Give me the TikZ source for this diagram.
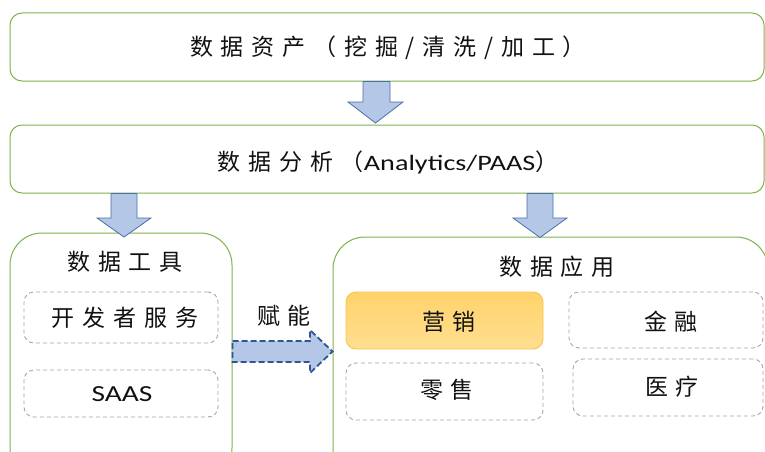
\documentclass[tikz,border=0pt]{standalone}
\usepackage{fontspec}
\usepackage{graphicx}
\setmainfont{Carlito}
\newfontfamily\cjk[LetterSpace=34]{Noto Sans CJK SC}
\newfontfamily\lat{Carlito}
\definecolor{gr}{HTML}{7DB54A}
\definecolor{ablue}{HTML}{B4C7E7}
\definecolor{abord}{HTML}{4A6FA5}
\definecolor{dashblue}{HTML}{2F5597}
\definecolor{gry}{HTML}{A6A6A6}
\definecolor{orline}{HTML}{F7C548}
\definecolor{txt}{HTML}{111111}
\definecolor{orTop}{HTML}{FFD36B}
\definecolor{orBot}{HTML}{FFDE90}
\newcommand{\wide}[1]{\scalebox{1.28}[1]{#1}}
\begin{document}
\begin{tikzpicture}[x=1pt,y=-1pt,
  gbox/.style={draw=gr, line width=1pt, rounded corners=12pt, inner sep=0pt},
  bigbox/.style={draw=gr, line width=1pt, rounded corners=32pt, inner sep=0pt},
  dbox/.style={draw=gry, dashed, dash pattern=on 4pt off 3pt, line width=0.9pt, rounded corners=10pt, inner sep=0pt},
  obox/.style={draw=orline, line width=0.9pt, rounded corners=10pt, top color=orTop, bottom color=orBot, inner sep=0pt},
  lbl/.style={text=txt, inner sep=0pt, font=\cjk\fontsize{23}{26}\selectfont},
  blk/.style={fill=ablue, draw=abord, line width=0.8pt, line join=miter},
  dblk/.style={fill=ablue, draw=dashblue, line width=1.8pt, dashed, dash pattern=on 6pt off 3pt, line join=miter}
]
\useasboundingbox (0,0) rectangle (765,452);
\clip (0,0) rectangle (765,452);
\fill[white] (0,0) rectangle (765,452);

% top level boxes
\node[gbox, minimum width=754pt, minimum height=68pt] (asset) at (387,47) {};
\node[lbl] (assetT) at (388,48) {数据资产（挖掘/清洗/加工）};
\node[gbox, minimum width=754pt, minimum height=68pt] (anal) at (387,159) {};
\node[lbl] (analT) at (388,162) {数据分析（{\lat\fontsize{22}{24}\selectfont\wide{Analytics/PAAS}}）};

% big lower boxes
\node[bigbox, minimum width=222pt, minimum height=247pt] (tools) at (121,356.5) {};
\node[bigbox, minimum width=435pt, minimum height=243pt] (apps) at (550.5,358.5) {};
\node[lbl] (toolsT) at (125,262) {数据工具};
\node[lbl] (appsT) at (557,267) {数据应用};

% inner boxes
\node[dbox, minimum width=194pt, minimum height=51pt] (dev) at (121,317.5) {};
\node[lbl] (devT) at (125,318) {开发者服务};
\node[dbox, minimum width=194pt, minimum height=47pt] (saas) at (121,393.5) {};
\node[text=txt, inner sep=0pt, font=\lat\fontsize{23}{24}\selectfont] (saasT) at (122,394) {\wide{SAAS}};

\node[obox, minimum width=197pt, minimum height=57pt] (mkt) at (444.5,320.5) {};
\node[lbl] (mktT) at (449,322) {营销};
\node[dbox, minimum width=194pt, minimum height=56pt] (fin) at (666,320) {};
\node[lbl] (finT) at (671,322) {金融};
\node[dbox, minimum width=197pt, minimum height=57pt] (ret) at (444.5,391.5) {};
\node[lbl] (retT) at (447,390) {零售};
\node[dbox, minimum width=190pt, minimum height=57pt] (med) at (668,387.5) {};
\node[lbl] (medT) at (672,387) {医疗};

% label for dashed arrow
\node[lbl] (fn) at (284,316) {赋能};

% block arrows
\draw[blk] (asset.south -| 363,0) -- (363,102) -- (348,102) -- (375.5,123) -- (403,102) -- (390,102) -- (asset.south -| 390,0) -- cycle;
\draw[blk] (anal.south -| 111,0) -- (111,218) -- (97,218) -- (124,237) -- (151,218) -- (137,218) -- (anal.south -| 137,0) -- cycle;
\draw[blk] (anal.south -| 527,0) -- (527,218) -- (513,218) -- (540,237.5) -- (567,218) -- (553,218) -- (anal.south -| 553,0) -- cycle;

% dashed block arrow
\draw[dblk] (tools.east |- 0,341) -- (310,341) -- (310,330) -- (apps.west |- 0,351.5) -- (310,373) -- (310,362) -- (tools.east |- 0,362) -- cycle;
\end{tikzpicture}
\end{document}
